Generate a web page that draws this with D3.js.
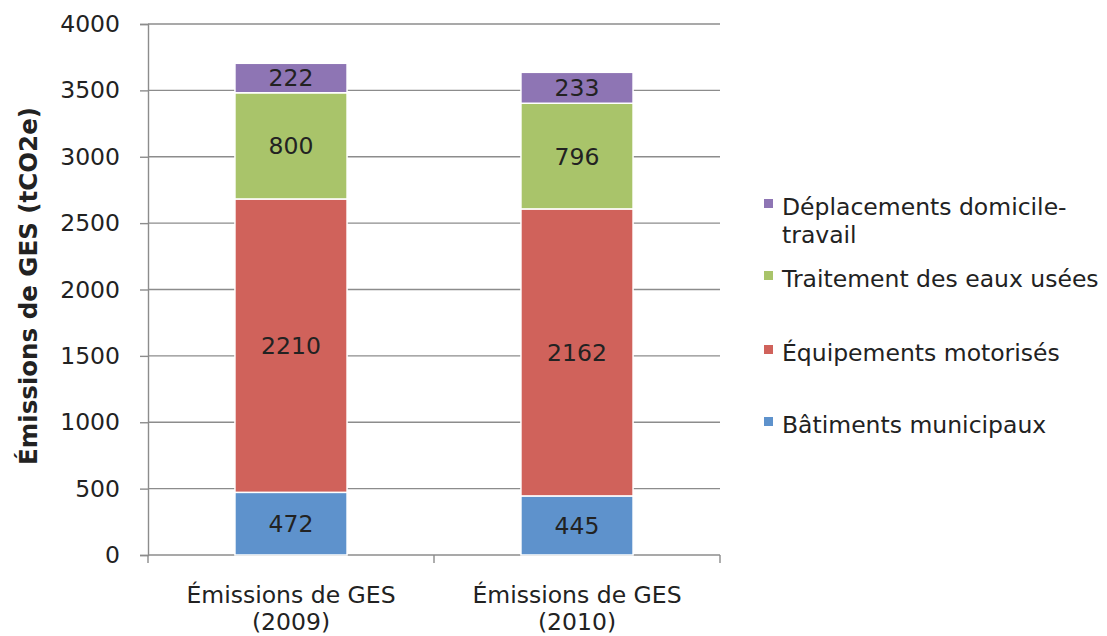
<!DOCTYPE html>
<html>
<head>
<meta charset="utf-8">
<script src="https://cdn.jsdelivr.net/npm/d3@7"></script>
<style>
  html, body { margin: 0; padding: 0; background: #fff; }
  svg text { font-family: "DejaVu Sans", Verdana, sans-serif; fill: #222; }
</style>
</head>
<body>
<div id="chart"></div>
<script>
// categories (two lines each)
const categories = ["Émissions de GES (2009)", "Émissions de GES (2010)"];
const categoryLines = [["Émissions de GES", "(2009)"], ["Émissions de GES", "(2010)"]];

// series, bottom to top
const seriesNames = ["Bâtiments municipaux", "Équipements motorisés", "Traitement des eaux usées", "Déplacements domicile-travail"];
const seriesColors = ["#5e92cc", "#d0625b", "#a9c46a", "#8e75b4"];
const batiments = [472, 445];
const equipements = [2210, 2162];
const traitement = [800, 796];
const deplacements = [222, 233];

const yTicks = [0, 500, 1000, 1500, 2000, 2500, 3000, 3500, 4000];

// legend, top to bottom (lines of text per entry)
const legendLabels = [["Déplacements domicile-", "travail"], ["Traitement des eaux usées"], ["Équipements motorisés"], ["Bâtiments municipaux"]];
const legendColors = ["#8e75b4", "#a9c46a", "#d0625b", "#5e92cc"];
const legendBaselines = [215, 287, 361, 433];

const width = 1107, height = 636;
const plot = {left: 148, right: 720, top: 24, bottom: 555};
const fs = 23.5;

const svg = d3.select("#chart").append("svg")
  .attr("width", width)
  .attr("height", height);

const rows = categories.map((c, i) => ({
  cat: c,
  "Bâtiments municipaux": batiments[i],
  "Équipements motorisés": equipements[i],
  "Traitement des eaux usées": traitement[i],
  "Déplacements domicile-travail": deplacements[i]
}));

const stacked = d3.stack().keys(seriesNames)(rows);

const x = d3.scaleBand()
  .domain(categories)
  .range([plot.left, plot.right])
  .paddingInner(0.608)
  .paddingOuter(0.304);

const y = d3.scaleLinear()
  .domain([0, 4000])
  .range([plot.bottom, plot.top]);

// gridlines
svg.append("g")
  .selectAll("line")
  .data(yTicks.filter(d => d > 0))
  .enter().append("line")
  .attr("x1", plot.left).attr("x2", plot.right)
  .attr("y1", d => y(d)).attr("y2", d => y(d))
  .attr("stroke", "#8c8c8c")
  .attr("stroke-width", 1.4);

// y axis
const yAxis = svg.append("g")
  .attr("transform", "translate(" + plot.left + ",0)")
  .call(d3.axisLeft(y).tickValues(yTicks).tickFormat(d3.format("d")).tickSize(8).tickPadding(20));
yAxis.select(".domain").attr("stroke", "#8c8c8c").attr("stroke-width", 1.4);
yAxis.selectAll(".tick line").attr("stroke", "#8c8c8c").attr("stroke-width", 1.4);
yAxis.selectAll(".tick text")
  .attr("font-size", fs)
  .attr("fill", "#222");

// x axis line + ticks at category boundaries
const xAxisG = svg.append("g");
xAxisG.append("line")
  .attr("x1", plot.left).attr("x2", plot.right)
  .attr("y1", plot.bottom).attr("y2", plot.bottom)
  .attr("stroke", "#8c8c8c").attr("stroke-width", 1.4);
const step = x.step();
const bounds = [plot.left].concat(categories.map(c => x(c) + x.bandwidth() / 2 + step / 2));
xAxisG.selectAll(".xt")
  .data(bounds)
  .enter().append("line")
  .attr("x1", d => d).attr("x2", d => d)
  .attr("y1", plot.bottom).attr("y2", plot.bottom + 8)
  .attr("stroke", "#8c8c8c").attr("stroke-width", 1.4);

// category labels
categories.forEach((c, i) => {
  const t = svg.append("text")
    .attr("x", x(c) + x.bandwidth() / 2)
    .attr("y", 603)
    .attr("text-anchor", "middle")
    .attr("font-size", fs);
  categoryLines[i].forEach((line, j) => {
    t.append("tspan")
      .attr("x", x(c) + x.bandwidth() / 2)
      .attr("dy", j === 0 ? 0 : 27)
      .text(line);
  });
});

// bars
const layers = svg.append("g")
  .selectAll("g")
  .data(stacked)
  .enter().append("g")
  .attr("fill", (d, i) => seriesColors[i]);

layers.selectAll("rect")
  .data(d => d)
  .enter().append("rect")
  .attr("x", d => x(d.data.cat))
  .attr("y", d => y(d[1]))
  .attr("width", x.bandwidth())
  .attr("height", d => y(d[0]) - y(d[1]))
  .attr("stroke", "#fff")
  .attr("stroke-width", 1.5);

// value labels
layers.selectAll("text")
  .data(d => d.map(v => Object.assign({}, v, {key: d.key})))
  .enter().append("text")
  .attr("x", d => x(d.data.cat) + x.bandwidth() / 2)
  .attr("y", d => (y(d[0]) + y(d[1])) / 2)
  .attr("dy", "0.36em")
  .attr("text-anchor", "middle")
  .attr("font-size", fs)
  .attr("fill", "#1a1a1a")
  .text(d => d.data[d.key]);

// y axis title
svg.append("text")
  .attr("transform", "translate(37,286) rotate(-90)")
  .attr("text-anchor", "middle")
  .attr("font-size", 24.5)
  .attr("font-weight", "bold")
  .attr("fill", "#111")
  .text("Émissions de GES (tCO2e)");

// legend
const legend = svg.append("g");
legendLabels.forEach((lines, i) => {
  const by = legendBaselines[i];
  legend.append("rect")
    .attr("x", 764)
    .attr("y", by - 16)
    .attr("width", 9)
    .attr("height", 9)
    .attr("fill", legendColors[i]);
  const t = legend.append("text")
    .attr("x", 782)
    .attr("y", by)
    .attr("font-size", fs);
  lines.forEach((line, j) => {
    t.append("tspan")
      .attr("x", 782)
      .attr("dy", j === 0 ? 0 : 28)
      .text(line);
  });
});
</script>
</body>
</html>
